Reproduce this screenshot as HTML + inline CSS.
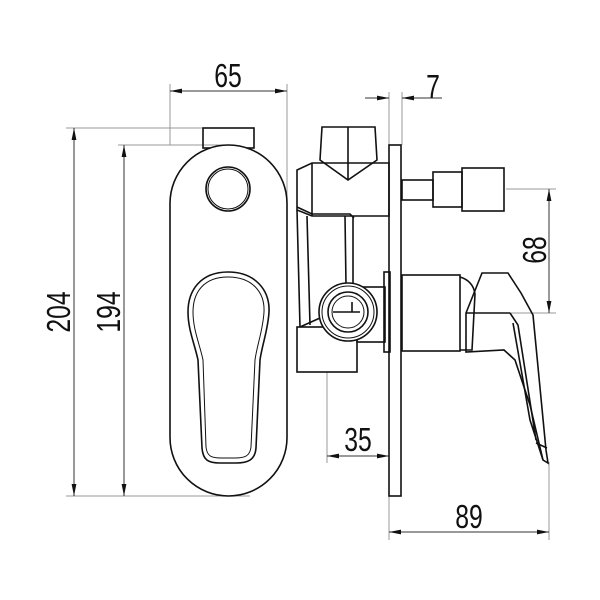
<!DOCTYPE html>
<html><head><style>body{margin:0;background:#fff}svg{display:block}text{font-family:"Liberation Sans Narrow","Liberation Sans",sans-serif;font-size:33px;fill:#111}</style></head><body>
<svg width="600" height="600" viewBox="0 0 600 600" xmlns="http://www.w3.org/2000/svg">
<defs>
<marker id="a" viewBox="0 0 10 4" refX="10" refY="2" markerWidth="12" markerHeight="5" orient="auto-start-reverse" markerUnits="userSpaceOnUse"><path d="M0,0L10,2L0,4z" fill="#111"/></marker>
</defs>
<g stroke="#999" stroke-width="1" fill="none">
<line x1="66" y1="128" x2="250" y2="128"/><line x1="66" y1="496" x2="250" y2="496"/>
<line x1="118" y1="145" x2="230" y2="145"/>
<line x1="170" y1="84" x2="170" y2="145"/><line x1="287" y1="84" x2="287" y2="230"/>
<line x1="389" y1="92" x2="389" y2="145"/><line x1="402" y1="92" x2="402" y2="145"/>
<line x1="506" y1="189" x2="556" y2="189"/><line x1="470" y1="313" x2="556" y2="313"/>
<line x1="327" y1="372" x2="327" y2="463"/>
<line x1="389" y1="496" x2="389" y2="540"/><line x1="549" y1="462" x2="549" y2="540"/>
</g>
<g stroke="#333" stroke-width="1" fill="none">
<line x1="74" y1="128" x2="74" y2="496" marker-start="url(#a)" marker-end="url(#a)"/>
<line x1="124" y1="145" x2="124" y2="496" marker-start="url(#a)" marker-end="url(#a)"/>
<line x1="170" y1="91" x2="287" y2="91" marker-start="url(#a)" marker-end="url(#a)"/>
<line x1="365" y1="98" x2="389" y2="98" marker-end="url(#a)"/>
<line x1="442" y1="98" x2="402" y2="98" marker-end="url(#a)"/>
<line x1="549" y1="189" x2="549" y2="313" marker-start="url(#a)" marker-end="url(#a)"/>
<line x1="327" y1="456" x2="389" y2="456" marker-start="url(#a)" marker-end="url(#a)"/>
<line x1="389" y1="532" x2="549" y2="532" marker-start="url(#a)" marker-end="url(#a)"/>
</g>
<g stroke="#111" stroke-width="1.6" fill="none">
<rect x="203" y="128" width="51" height="20"/>
<rect x="170" y="145" width="117" height="351" rx="58.5" fill="#fff"/>
<circle cx="228" cy="189" r="22"/><circle cx="228" cy="189" r="20" stroke-width="1"/>
<path d="M228,272 C255,272 270,290 269,312 C268,330 262,345 260,360 L256,448 C255,460 248,463 236,463 L220,463 C208,463 203,460 202,448 L198,360 C195,345 188,330 188,312 C188,290 201,272 228,272 Z"/>
<path d="M228,277 C252,277 265,292 264,312 C263,330 257,345 255,360 L251,447 C250,456 245,458 235,458 L221,458 C211,458 207,456 206,447 L203,360 C200,345 193,330 193,312 C193,292 204,277 228,277 Z" stroke-width="1"/>
<rect x="389" y="145" width="12" height="351"/>
<path d="M322,127 L375,127 L377,160 L348,180 L320,160 Z"/>
<line x1="348" y1="127" x2="348" y2="180"/>
<path d="M312,163 L389,163 L389,216 L312,216 L297,210 L297,170 Z"/>
<line x1="312" y1="163" x2="312" y2="216"/>
<path d="M297,207 L312,214 L350,214 L354,218"/>
<rect x="402" y="180" width="31" height="20"/>
<rect x="433" y="172" width="29" height="35"/>
<rect x="462" y="168" width="42" height="43"/>
<path d="M297,210 L300,327 M307,216 L310,325 M345,216 L346,285 M353,216 L353,285"/>
<rect x="297" y="327" width="60" height="45"/>
<path d="M300,327 L320,318"/>
<rect x="357" y="287" width="28" height="55"/>
<circle cx="348" cy="312" r="29" fill="#fff"/>
<circle cx="348" cy="312" r="26" stroke-width="1"/>
<circle cx="348" cy="312" r="20"/>
<circle cx="348" cy="312" r="16" stroke-width="1"/>
<path d="M333,312 L352,312 L352,302 M352,312 L360,312"/>
<rect x="384" y="272" width="6" height="80"/>
<rect x="402" y="275" width="58" height="76"/>
<path d="M460,277 C470,280 474,287 475,294 L472,350 L460,350"/>
<path d="M466,313 L482,273 L508,273 L521,293 L533,315 L546,450 L548,463 L543,460 L530,405 L515,360 L504,350 L466,352 Z"/>
<path d="M466,313 L510,313 M510,313 L518,325 L536,440 M513,323 L530,420 L543,460 M536,443 L547,448"/>
</g>
<g>
<text x="228" y="87" text-anchor="middle" transform="translate(228 0) scale(0.75 1) translate(-228 0)">65</text>
<text x="433" y="98" text-anchor="middle" transform="translate(433 0) scale(0.75 1) translate(-433 0)">7</text>
<text x="358" y="451" text-anchor="middle" transform="translate(358 0) scale(0.75 1) translate(-358 0)">35</text>
<text x="469" y="528" text-anchor="middle" transform="translate(469 0) scale(0.75 1) translate(-469 0)">89</text>
<text transform="translate(70 312) rotate(-90) scale(0.75 1)" text-anchor="middle">204</text>
<text transform="translate(120 312) rotate(-90) scale(0.75 1)" text-anchor="middle">194</text>
<text transform="translate(546 250) rotate(-90) scale(0.75 1)" text-anchor="middle">68</text>
</g>
</svg>
</body></html>
